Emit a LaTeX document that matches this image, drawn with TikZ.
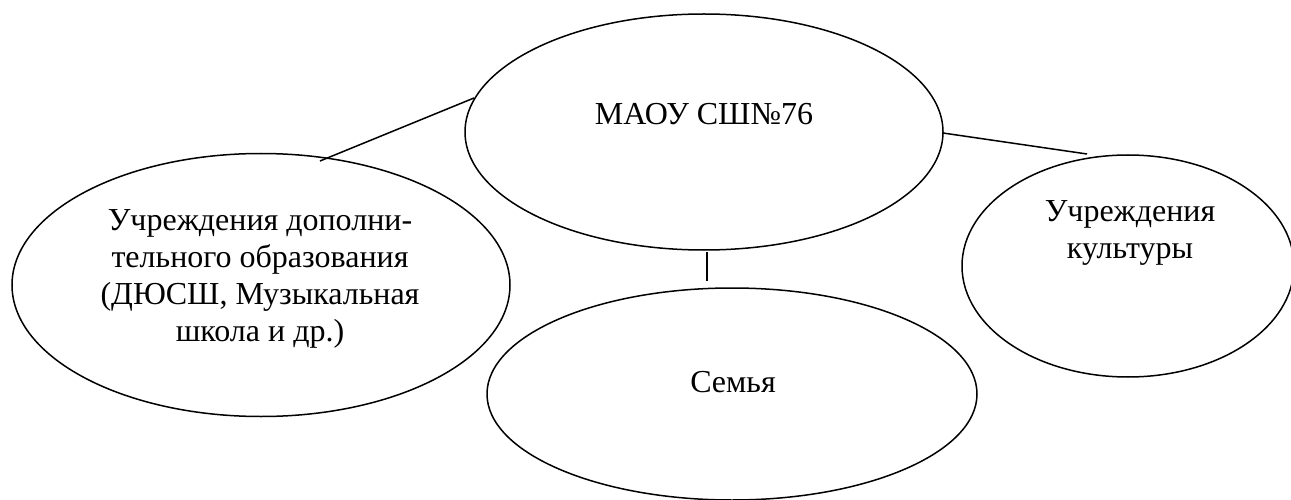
\documentclass[tikz,border=0pt]{standalone}
\usepackage{fontspec}
\setmainfont{Liberation Serif}
\newfontfamily\tnr{Liberation Serif}
\usetikzlibrary{shapes.geometric}
\begin{document}
\begin{tikzpicture}[x=1pt,y=-1pt,
  oval/.style={draw=black, line width=1.5pt, ellipse, inner sep=0pt, minimum width=#1},
  lbl/.style={align=center, inner sep=0pt, font=\tnr\fontsize{32}{37}\selectfont},
  link/.style={draw=black, line width=1.5pt}]
\useasboundingbox (0,0) rectangle (1291,500);
\node[oval=478pt, minimum height=236pt] (school) at (704,132) {};
\node[oval=498pt, minimum height=263pt] (dop) at (261,285) {};
\node[oval=332pt, minimum height=222pt] (kult) at (1128,266) {};
\node[oval=490pt, minimum height=212pt] (fam) at (732,394) {};
\node[lbl] (tschool) at (704,114) {МАОУ СШ№76};
\node[lbl] (tdop) at (260,279) {Учреждения дополни-\\тельного образования\\(ДЮСШ, Музыкальная\\школа и др.)};
\node[lbl] (tkult) at (1130,233) {Учреждения\\культуры};
\node[lbl] (tfam) at (733,382) {Семья};
\coordinate (l1) at (320,161);
\coordinate (l2) at (474,98);
\coordinate (r1) at (943,133);
\coordinate (r2) at (1087,154);
\coordinate (v1) at (707,252);
\coordinate (v2) at (707,281);
\draw[link] (l1) -- (l2);
\draw[link] (r1) -- (r2);
\draw[link] (v1) -- (v2);
\end{tikzpicture}
\end{document}
